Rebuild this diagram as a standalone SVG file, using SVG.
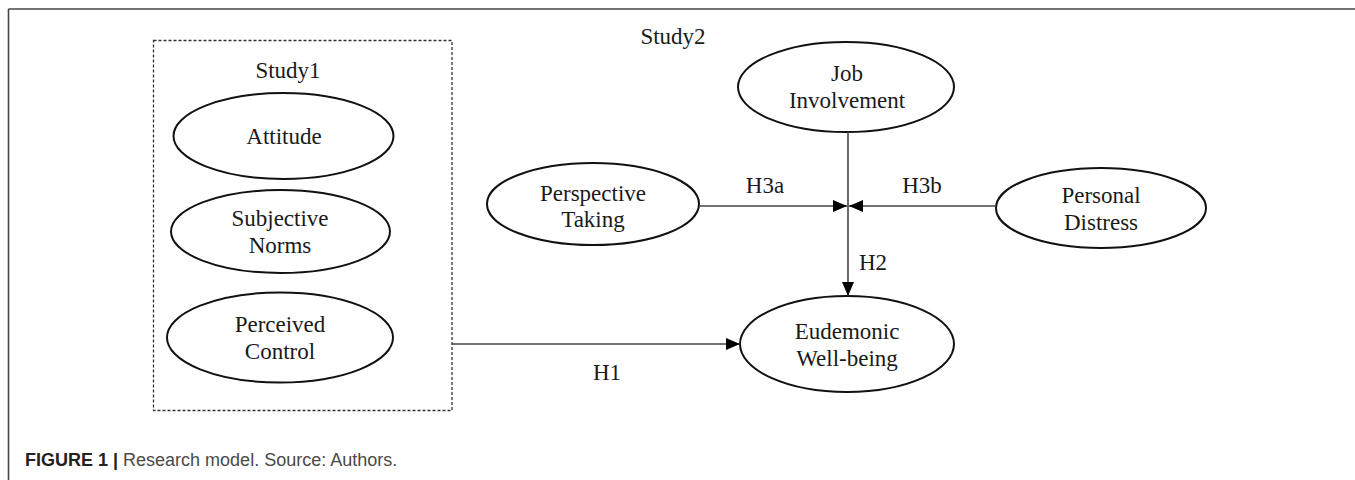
<svg xmlns="http://www.w3.org/2000/svg" width="1355" height="480" viewBox="0 0 1355 480">
<style>
.n{fill:#fff;stroke:#111;stroke-width:2}
.t{font-family:"Liberation Serif","Times New Roman",serif;font-size:23px;fill:#1a1a1a;text-anchor:middle}
.c{stroke:#444;stroke-width:1.6;fill:none}
.cap{font-family:"Liberation Sans",Arial,sans-serif;font-size:18px;fill:#4a4a4a}
</style>
<defs>
<marker id="ah" viewBox="0 0 14 12" refX="14" refY="6" markerWidth="14" markerHeight="12" markerUnits="userSpaceOnUse" orient="auto">
<path d="M0,0 L14,6 L0,12 Z" fill="#000"/>
</marker>
</defs>
<rect width="1355" height="480" fill="#fff"/>
<g id="frame">
<line x1="8.5" y1="9" x2="1355" y2="9" stroke="#444" stroke-width="1.6"/>
<line x1="8.5" y1="9" x2="8.5" y2="480" stroke="#444" stroke-width="1.6"/>
</g>
<g id="study1">
<rect x="153.5" y="40.5" width="298.5" height="370" fill="none" stroke="#333" stroke-width="1.3" stroke-dasharray="3,2"/>
<text class="t" x="288" y="78">Study1</text>
</g>
<text class="t" x="673" y="44">Study2</text>
<g id="attitude">
<ellipse class="n" cx="283.5" cy="136" rx="110" ry="43"/>
<text class="t" x="284" y="144">Attitude</text>
</g>
<g id="subjective-norms">
<ellipse class="n" cx="280.5" cy="231.5" rx="109.5" ry="41.5"/>
<text class="t" x="280" y="226">Subjective</text>
<text class="t" x="280" y="253">Norms</text>
</g>
<g id="perceived-control">
<ellipse class="n" cx="280" cy="337.5" rx="113" ry="45"/>
<text class="t" x="280" y="332">Perceived</text>
<text class="t" x="280" y="359">Control</text>
</g>
<g id="job-involvement">
<ellipse class="n" cx="846" cy="87" rx="108" ry="45"/>
<text class="t" x="847" y="81">Job</text>
<text class="t" x="847" y="108">Involvement</text>
</g>
<g id="perspective-taking">
<ellipse class="n" cx="593" cy="204" rx="106" ry="41"/>
<text class="t" x="593" y="201">Perspective</text>
<text class="t" x="593" y="227">Taking</text>
</g>
<g id="personal-distress">
<ellipse class="n" cx="1101" cy="208" rx="105" ry="40"/>
<text class="t" x="1101" y="203">Personal</text>
<text class="t" x="1101" y="230">Distress</text>
</g>
<g id="eudemonic-well-being">
<ellipse class="n" cx="847" cy="344" rx="107" ry="48"/>
<text class="t" x="847" y="339">Eudemonic</text>
<text class="t" x="847" y="366">Well-being</text>
</g>
<g id="connectors">
<line class="c" x1="452" y1="344" x2="740" y2="344" marker-end="url(#ah)"/>
<line class="c" x1="848" y1="132" x2="848" y2="296" marker-end="url(#ah)"/>
<line class="c" x1="699" y1="206" x2="847" y2="206" marker-end="url(#ah)"/>
<line class="c" x1="995" y1="206" x2="849" y2="206" marker-end="url(#ah)"/>
<text class="t" x="607" y="380">H1</text>
<text class="t" x="873" y="270">H2</text>
<text class="t" x="765" y="193">H3a</text>
<text class="t" x="922" y="193">H3b</text>
</g>
<text class="cap" x="25" y="466"><tspan font-weight="bold" fill="#222">FIGURE 1 |</tspan> Research model. Source: Authors.</text>
</svg>
